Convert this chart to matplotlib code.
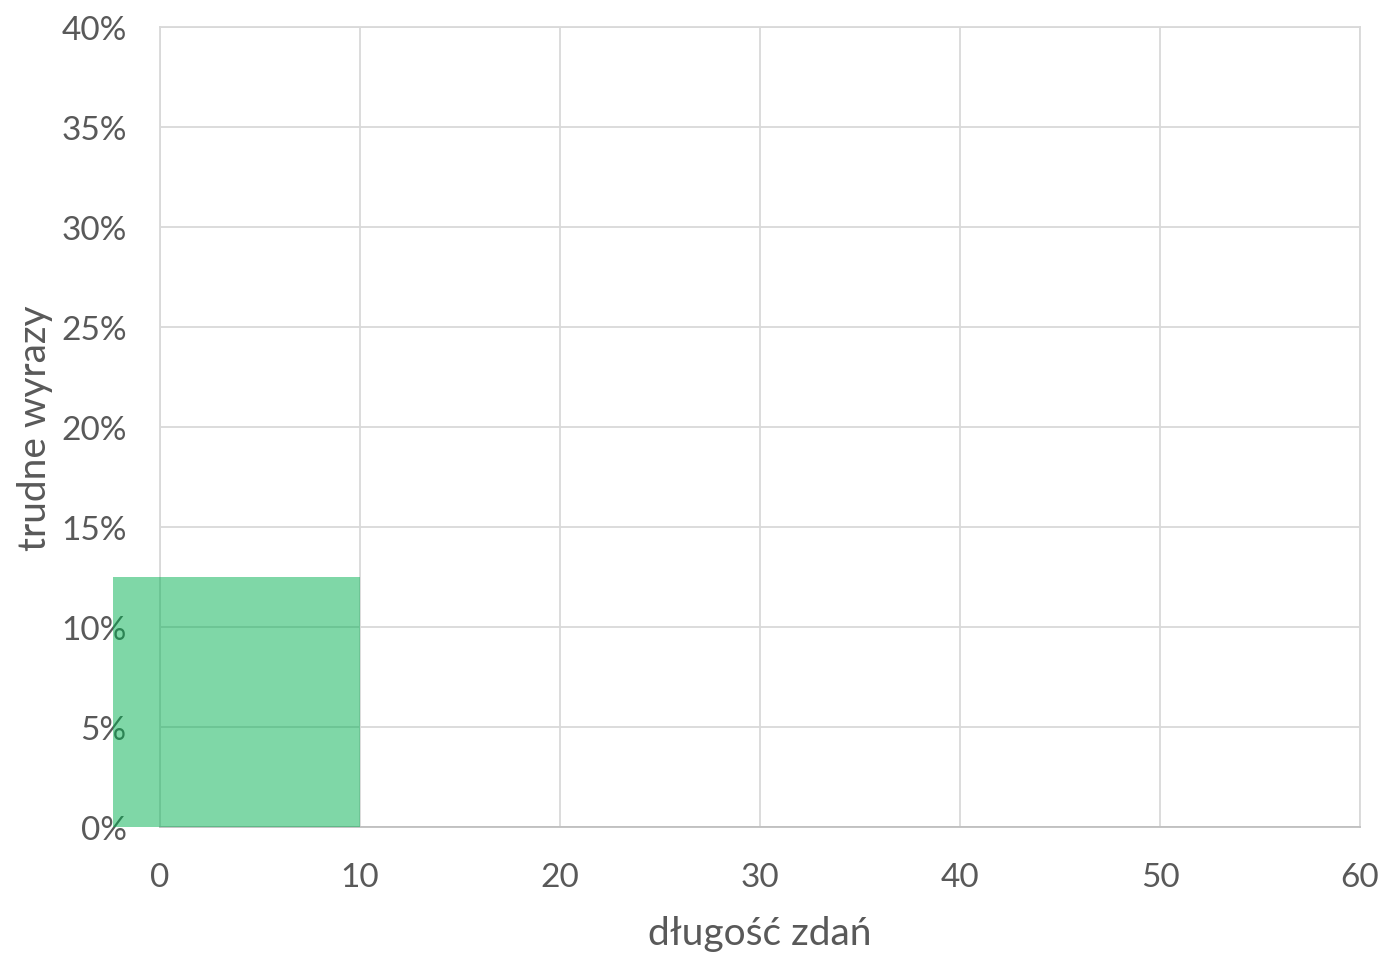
import numpy as np
import matplotlib
matplotlib.use("Agg")
from matplotlib import pyplot as plt
from matplotlib.ticker import PercentFormatter

plt.rcParams['font.family'] = ['Lato', 'DejaVu Sans']

# histogram bin (sentence length range) and its share of hard words
bin_left = [-2.35]
bin_right = [10]
share = [0.125]

x_ticks = [0, 10, 20, 30, 40, 50, 60]
y_ticks = [0, 0.05, 0.10, 0.15, 0.20, 0.25, 0.30, 0.35, 0.40]

text_color = '#595959'
grid_color = '#D9D9D9'

fig = plt.figure(figsize=(13.83, 9.54), dpi=100)
ax = fig.add_axes([160/1383, 1 - 828/954, 1200/1383, 800/954])

widths = np.array(bin_right) - np.array(bin_left)
ax.bar(bin_left, share, width=widths, align='edge', color='#00B050',
       alpha=0.5, linewidth=0, clip_on=False, zorder=10)

ax.set_xlim(0, 60)
ax.set_ylim(0, 0.40)
ax.set_xticks(x_ticks)
ax.set_yticks(y_ticks)
ax.yaxis.set_major_formatter(PercentFormatter(1.0, decimals=0))

ax.grid(True, color=grid_color, linewidth=1.3)
ax.set_axisbelow(True)
for side in ['top', 'right', 'left']:
    ax.spines[side].set_color(grid_color)
    ax.spines[side].set_linewidth(1.3)
ax.spines['bottom'].set_color('#BFBFBF')
ax.spines['bottom'].set_linewidth(1.3)

ax.tick_params(length=0, labelsize=24, labelcolor=text_color)
ax.tick_params(axis='y', pad=24)
ax.tick_params(axis='x', pad=25)

ax.set_xlabel('długość zdań', fontsize=28, color=text_color, labelpad=17)
ax.set_ylabel('trudne wyrazy', fontsize=28, color=text_color, labelpad=6)

fig.savefig('out.png', dpi=100)
